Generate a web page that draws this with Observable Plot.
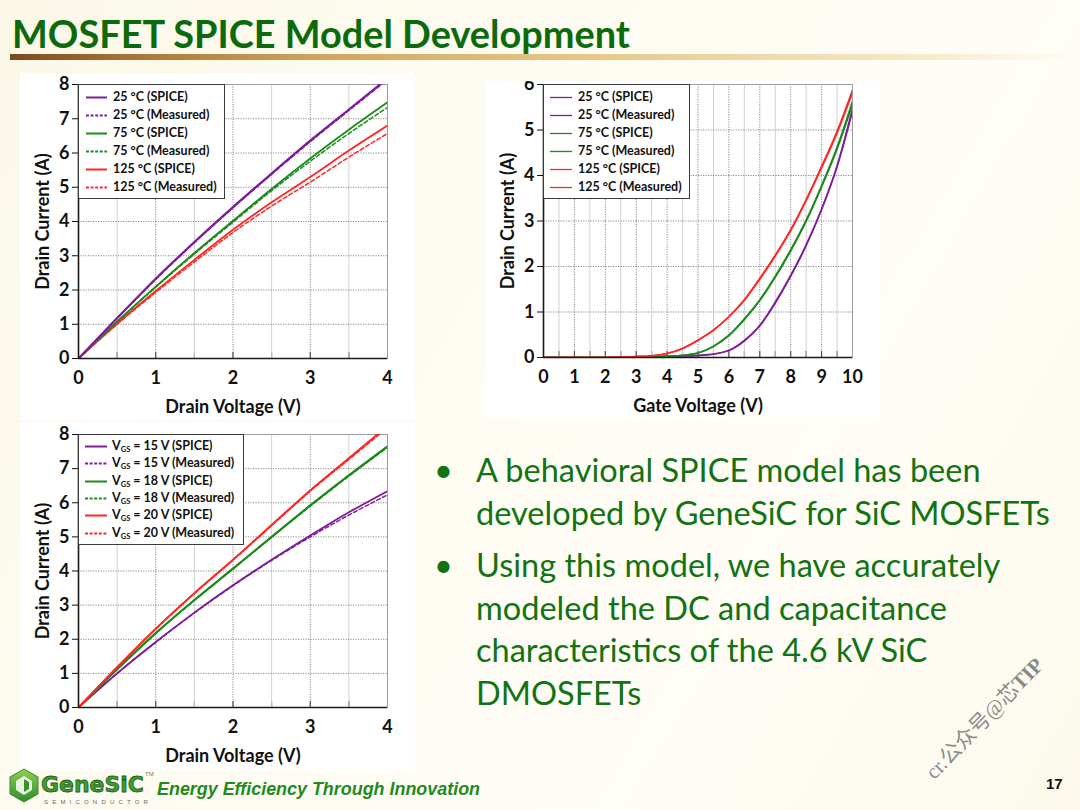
<!DOCTYPE html>
<html>
<head>
<meta charset="utf-8">
<script src="https://cdn.jsdelivr.net/npm/d3@7"></script>
<script src="https://cdn.jsdelivr.net/npm/@observablehq/plot@0.6"></script>
<style>
html,body{margin:0;padding:0;}
body{width:1080px;height:810px;overflow:hidden;position:relative;font-family:Lato,"Open Sans",sans-serif;
  background:linear-gradient(120deg,#fbf8e8 0%,#fefcf2 40%,#fffdf6 70%,#fcf9ec 100%);}
.abs{position:absolute;}
.panel{position:absolute;background:#fff;overflow:hidden;}
.legend{position:absolute;background:#fff;border:1.2px solid #3a3a3a;box-sizing:border-box;}
.row{position:absolute;left:0;height:16px;white-space:nowrap;font-weight:700;font-size:12.5px;color:#111;line-height:16px;}
.row svg{position:absolute;top:0;}
.row span{position:absolute;top:0;}
.row sub{font-size:7.5px;vertical-align:-2px;}
.fit{white-space:nowrap;position:absolute;}
.bul{color:#127312;font-size:30px;line-height:43px;}
</style>
</head>
<body>
<div id="title" class="fit" style="left:12px;top:12px;height:44px;line-height:44px;font-weight:700;color:#0b6a0b;font-size:36px;" data-w="618">MOSFET SPICE Model Development</div>
<div class="abs" style="left:10px;top:54px;width:1070px;height:6px;background:linear-gradient(90deg,#7a4a1e 0%,#a8783a 12%,#d2a860 30%,#e6c98a 55%,#f4e4bc 80%,rgba(252,248,232,0) 100%);"></div>

<div id="p1" class="panel" style="left:20px;top:73px;width:395px;height:347px;"></div>
<div id="p2" class="panel" style="left:485px;top:81px;width:395px;height:337px;"></div>
<div id="p3" class="panel" style="left:20px;top:422px;width:395px;height:348px;"></div>

<div id="bullets"></div>

<div id="wm" class="abs" style="left:983px;top:715px;width:0;height:0;">
  <div style="position:absolute;left:-100px;top:-13px;width:200px;text-align:center;transform:rotate(-46deg);font-family:'Liberation Serif','Noto Sans CJK SC',serif;font-size:21px;font-weight:400;color:#8a8a8a;white-space:nowrap;text-shadow:0 0 1px #fff;">cr.公众号@芯<b>TIP</b></div>
</div>

<div id="logo" class="abs" style="left:6px;top:766px;width:150px;height:42px;">
  <svg width="150" height="42" viewBox="0 0 150 42">
    <defs>
      <linearGradient id="lg" x1="0" y1="0" x2="0" y2="1">
        <stop offset="0" stop-color="#8fd14f"/><stop offset="1" stop-color="#2e8b2e"/>
      </linearGradient>
    </defs>
    <polygon points="18,3 32,11 32,28 18,36 4,28 4,11" fill="url(#lg)" stroke="#3a8a2a" stroke-width="1"/>
    <polygon points="18,10 26,15 26,24 18,29 10,24 10,15" fill="#fff" opacity="0.85"/>
    <polygon points="18,13 23,16 23,23 18,26" fill="#3d8f2a"/>
    <text x="35" y="26" font-family="'DejaVu Sans','Liberation Sans',sans-serif" font-weight="900" font-size="22" fill="#3f9b2c" stroke="#1f5f1a" stroke-width="0.8" textLength="103" lengthAdjust="spacingAndGlyphs">GeneSiC</text>
    <text x="139" y="10" font-family="Liberation Sans" font-size="6" fill="#777">TM</text>
    <text x="38" y="38" font-family="Liberation Sans" font-size="6" fill="#666" letter-spacing="4.2">SEMICONDUCTOR</text>
  </svg>
</div>
<div id="tag" class="fit" style="left:157px;top:778px;height:22px;line-height:22px;font-family:'Liberation Sans',Arial,sans-serif;font-style:italic;font-weight:700;font-size:18px;color:#1f8a1f;" data-w="323">Energy Efficiency Through Innovation</div>
<div class="abs" style="left:1046px;top:775px;font-family:'Liberation Sans',Arial,sans-serif;font-weight:700;font-size:15px;color:#111;">17</div>

<script>
// ---------------- DATA ----------------
// Chart 1: Drain current vs drain voltage at various temperatures
const vdTemp = [0, 0.5, 1, 1.5, 2, 2.5, 3, 3.5, 4];
const t25Spice   = [0, 1.18, 2.33, 3.40, 4.42, 5.40, 6.36, 7.27, 8.18];
const t25Meas    = [0, 1.17, 2.31, 3.38, 4.40, 5.38, 6.33, 7.24, 8.14];
const t75Spice   = [0, 1.08, 2.10, 3.08, 4.02, 4.95, 5.84, 6.68, 7.48];
const t75Meas    = [0, 1.07, 2.08, 3.05, 3.98, 4.90, 5.76, 6.57, 7.33];
const t125Spice  = [0, 1.02, 1.97, 2.88, 3.76, 4.56, 5.30, 6.07, 6.80];
const t125Meas   = [0, 1.00, 1.93, 2.82, 3.68, 4.45, 5.15, 5.88, 6.57];

// Chart 2: Drain current vs gate voltage (transfer)
const vg = [0, 1, 2, 3, 3.5, 4, 4.5, 5, 5.5, 6, 6.5, 7, 7.5, 8, 8.5, 9, 9.5, 10];
const g25Spice  = [0, 0, 0, 0.01, 0.015, 0.02, 0.03, 0.04, 0.07, 0.16, 0.38, 0.71, 1.22, 1.81, 2.48, 3.27, 4.22, 5.48];
const g25Meas   = [0, 0, 0, 0.01, 0.015, 0.02, 0.03, 0.05, 0.08, 0.15, 0.36, 0.69, 1.19, 1.78, 2.45, 3.24, 4.18, 5.40];
const g75Spice  = [0, 0, 0, 0.01, 0.02, 0.03, 0.05, 0.10, 0.25, 0.49, 0.85, 1.27, 1.79, 2.37, 3.02, 3.78, 4.62, 5.63];
const g75Meas   = [0, 0, 0, 0.01, 0.02, 0.03, 0.05, 0.10, 0.24, 0.48, 0.83, 1.25, 1.76, 2.34, 2.99, 3.75, 4.58, 5.56];
const g125Spice = [0, 0, 0, 0.02, 0.04, 0.09, 0.20, 0.38, 0.60, 0.90, 1.27, 1.74, 2.25, 2.81, 3.47, 4.20, 4.97, 5.88];
const g125Meas  = [0, 0, 0, 0.02, 0.04, 0.09, 0.20, 0.38, 0.60, 0.89, 1.26, 1.72, 2.23, 2.79, 3.45, 4.17, 4.93, 5.82];

// Chart 3: Drain current vs drain voltage at various VGS
const vdGate = [0, 0.5, 1, 1.5, 2, 2.5, 3, 3.5, 4];
const v15Spice = [0, 1.00, 1.92, 2.78, 3.58, 4.33, 5.04, 5.72, 6.34];
const v15Meas  = [0, 1.00, 1.91, 2.77, 3.57, 4.31, 5.00, 5.64, 6.23];
const v18Spice = [0, 1.12, 2.18, 3.15, 4.07, 5.00, 5.92, 6.80, 7.65];
const v18Meas  = [0, 1.11, 2.17, 3.14, 4.06, 4.99, 5.90, 6.78, 7.62];
const v20Spice = [0, 1.18, 2.31, 3.35, 4.33, 5.35, 6.36, 7.30, 8.25];
const v20Meas  = [0, 1.17, 2.30, 3.34, 4.32, 5.33, 6.34, 7.27, 8.20];

// Tick values
const xTicksVd   = [0, 0.5, 1, 1.5, 2, 2.5, 3, 3.5, 4];
const xGridVdMaj = [1, 2, 3];
const xGridVdMin = [0.5, 1.5, 2.5, 3.5];
const yTicks8    = [0, 1, 2, 3, 4, 5, 6, 7, 8];
const yGrid8     = [1, 2, 3, 4, 5, 6, 7];
const xTicksVg   = [0, 0.5, 1, 1.5, 2, 2.5, 3, 3.5, 4, 4.5, 5, 5.5, 6, 6.5, 7, 7.5, 8, 8.5, 9, 9.5, 10];
const xGridVgMaj = [1, 2, 3, 4, 5, 6, 7, 8, 9];
const xGridVgMin = [0.5, 1.5, 2.5, 3.5, 4.5, 5.5, 6.5, 7.5, 8.5, 9.5];
const yTicks6    = [0, 1, 2, 3, 4, 5, 6];
const yGrid6     = [1, 2, 3, 4, 5];

// Legend labels
const tempLabels = ["25 °C (SPICE)", "25 °C (Measured)", "75 °C (SPICE)", "75 °C (Measured)", "125 °C (SPICE)", "125 °C (Measured)"];
const vgsLabels  = ["15 V (SPICE)", "15 V (Measured)", "18 V (SPICE)", "18 V (Measured)", "20 V (SPICE)", "20 V (Measured)"];

const bulletLines = [
  ["A behavioral SPICE model has been", "developed by GeneSiC for SiC MOSFETs"],
  ["Using this model, we have accurately", "modeled the DC and capacitance", "characteristics of the 4.6 kV SiC", "DMOSFETs"]
];

// ---------------- STYLE ----------------
const PURPLE = "#7d1e98", GREEN = "#1c8a1c", RED = "#ff2626";

function chart(el, cfg) {
  const marks = [
    Plot.ruleX(cfg.xMin, {stroke: "#d2d2d2", strokeWidth: 1}),
    Plot.ruleX(cfg.xMaj, {stroke: "#8a8a8a", strokeWidth: 1, strokeDasharray: "1.2,1.3"}),
    Plot.ruleY(cfg.yMaj, {stroke: "#8a8a8a", strokeWidth: 1, strokeDasharray: "1.2,1.3"}),
    Plot.frame({stroke: "#9c9c9c", strokeWidth: 1})
  ];
  for (const s of cfg.series) {
    const data = s.x.map((x, i) => ({x, y: s.y[i]}));
    marks.push(Plot.line(data, {x: "x", y: "y", stroke: s.color, strokeWidth: s.w, strokeDasharray: s.dash, curve: "monotone-x", clip: true}));
  }
  marks.push(Plot.ruleX([cfg.xDomain[0]], {stroke: "#1a1a1a", strokeWidth: 1.6}));
  marks.push(Plot.ruleY([cfg.yDomain[0]], {stroke: "#1a1a1a", strokeWidth: 1.6}));
  const p = Plot.plot({
    width: cfg.width, height: cfg.height,
    marginLeft: cfg.ml, marginRight: cfg.mr, marginTop: cfg.mt, marginBottom: cfg.mb,
    style: {fontFamily: "Lato, 'Open Sans', sans-serif", fontSize: "18px", fontWeight: "700", color: "#111", background: "transparent", overflow: "visible"},
    x: {domain: cfg.xDomain, ticks: cfg.xTicks, tickFormat: d => Number.isInteger(d) ? String(d) : "", tickSize: -6, tickPadding: 19,
        label: cfg.xLabel, labelAnchor: "center", labelOffset: 54, labelArrow: "none"},
    y: {domain: cfg.yDomain, ticks: cfg.yTicks, tickFormat: d => String(d), tickSize: 6, tickPadding: 3,
        label: "Drain Current (A)", labelAnchor: "center", labelOffset: 42, labelArrow: "none"},
    marks
  });
  el.appendChild(p);
}

chart(document.getElementById("p1"), {
  width: 395, height: 347, ml: 58, mr: 28, mt: 11, mb: 62,
  xDomain: [0, 4], yDomain: [0, 8], xTicks: xTicksVd, yTicks: yTicks8,
  xMaj: xGridVdMaj, xMin: xGridVdMin, yMaj: yGrid8, xLabel: "Drain Voltage (V)",
  series: [
    {x: vdTemp, y: t125Spice, color: RED, w: 1.8},
    {x: vdTemp, y: t125Meas, color: RED, w: 1.5, dash: "4,2.5"},
    {x: vdTemp, y: t75Spice, color: GREEN, w: 1.8},
    {x: vdTemp, y: t75Meas, color: GREEN, w: 1.5, dash: "4,2.5"},
    {x: vdTemp, y: t25Spice, color: PURPLE, w: 2.2},
    {x: vdTemp, y: t25Meas, color: PURPLE, w: 1.5, dash: "4,2.5"}
  ]
});

chart(document.getElementById("p2"), {
  width: 395, height: 337, ml: 58, mr: 28, mt: 3, mb: 61,
  xDomain: [0, 10], yDomain: [0, 6], xTicks: xTicksVg, yTicks: yTicks6,
  xMaj: xGridVgMaj, xMin: xGridVgMin, yMaj: yGrid6, xLabel: "Gate Voltage (V)",
  series: [
    {x: vg, y: g25Meas, color: PURPLE, w: 1.4},
    {x: vg, y: g25Spice, color: PURPLE, w: 1.4},
    {x: vg, y: g75Meas, color: GREEN, w: 1.6},
    {x: vg, y: g75Spice, color: GREEN, w: 1.6},
    {x: vg, y: g125Meas, color: RED, w: 1.6},
    {x: vg, y: g125Spice, color: RED, w: 1.6}
  ]
});

chart(document.getElementById("p3"), {
  width: 395, height: 348, ml: 58, mr: 28, mt: 12, mb: 63,
  xDomain: [0, 4], yDomain: [0, 8], xTicks: xTicksVd, yTicks: yTicks8,
  xMaj: xGridVdMaj, xMin: xGridVdMin, yMaj: yGrid8, xLabel: "Drain Voltage (V)",
  series: [
    {x: vdGate, y: v15Spice, color: PURPLE, w: 1.8},
    {x: vdGate, y: v15Meas, color: PURPLE, w: 1.5, dash: "4,2.5"},
    {x: vdGate, y: v18Spice, color: GREEN, w: 2.2},
    {x: vdGate, y: v18Meas, color: GREEN, w: 1.5, dash: "4,2.5"},
    {x: vdGate, y: v20Spice, color: RED, w: 2.0},
    {x: vdGate, y: v20Meas, color: RED, w: 1.5, dash: "4,2.5"}
  ]
});

// ---------------- LEGENDS (HTML overlay) ----------------
const legendColors = [PURPLE, PURPLE, GREEN, GREEN, RED, RED];
function legend(box, labels, opts) {
  const d = document.createElement("div");
  d.className = "legend";
  Object.assign(d.style, {left: box[0] + "px", top: box[1] + "px", width: box[2] + "px", height: box[3] + "px"});
  labels.forEach((lab, i) => {
    const r = document.createElement("div");
    r.className = "row";
    r.style.top = (opts.y0 + i * opts.dy - 8) + "px";
    const dashed = opts.dashed && i % 2 === 1;
    r.innerHTML = `<svg width="30" height="16" style="left:${opts.sx}px"><line x1="0" x2="${opts.sw}" y1="8.5" y2="8.5" stroke="${legendColors[i]}" stroke-width="${opts.lw}" ${dashed ? 'stroke-dasharray="3,1.6"' : ''}/></svg>` +
      `<span style="left:${opts.tx}px">${opts.vgs ? 'V<sub>GS</sub> = ' + lab : lab}</span>`;
    d.appendChild(r);
  });
  document.body.appendChild(d);
}
legend([78, 84, 147, 115], tempLabels, {y0: 11.5, dy: 18, sx: 7, sw: 21, tx: 34, lw: 2, dashed: true});
legend([543, 84, 147, 115], tempLabels, {y0: 11.5, dy: 18, sx: 6, sw: 22, tx: 34, lw: 1.3, dashed: false});
legend([78, 434, 166, 111], vgsLabels, {y0: 11, dy: 17.3, sx: 6, sw: 22, tx: 33, lw: 2, dashed: true, vgs: true});

// ---------------- BULLETS ----------------
const lineCenters = [[469, 512], [564, 607, 649, 692]];
const bwrap = document.getElementById("bullets");
bulletLines.forEach((para, pi) => {
  para.forEach((txt, li) => {
    const cy = lineCenters[pi][li];
    if (li === 0) {
      const b = document.createElement("div");
      b.className = "abs bul";
      b.style.left = "434px"; b.style.top = (cy - 21.5) + "px";
      b.textContent = "•";
      bwrap.appendChild(b);
    }
    const t = document.createElement("div");
    t.className = "abs bul";
    t.style.whiteSpace = "nowrap";
    t.style.left = "476px"; t.style.top = (cy - 21.5) + "px";
    t.textContent = txt;
    if (pi === 0 && li === 1) t.dataset.ref = "1";
    bwrap.appendChild(t);
  });
});
// scale bullet font so the reference line width (574px) fits
(function () {
  const ref = bwrap.querySelector('[data-ref="1"]');
  const w = ref.getBoundingClientRect().width;
  const fs = 30 * 574 / w;
  bwrap.querySelectorAll(".bul").forEach(e => e.style.fontSize = fs.toFixed(2) + "px");
})();
document.querySelectorAll(".fit").forEach(e => {
  const target = +e.dataset.w;
  const fs = parseFloat(getComputedStyle(e).fontSize);
  const w = e.getBoundingClientRect().width;
  e.style.fontSize = (fs * target / w).toFixed(2) + "px";
});
</script>
</body>
</html>
